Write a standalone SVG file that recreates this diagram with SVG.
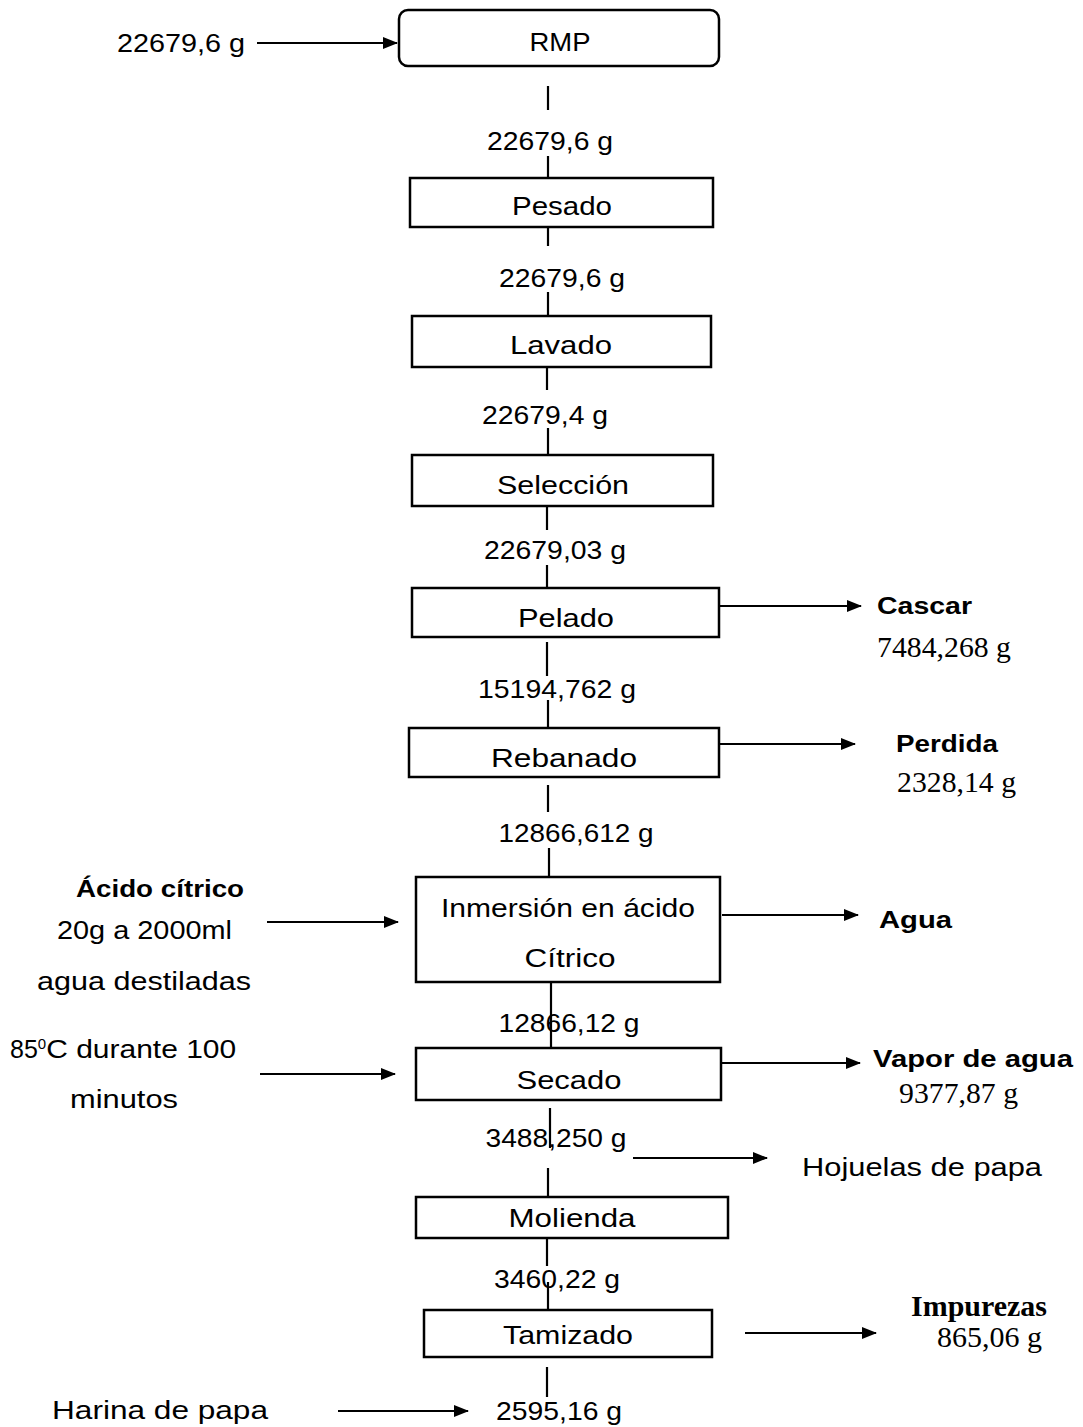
<svg xmlns="http://www.w3.org/2000/svg" width="1083" height="1427" viewBox="0 0 1083 1427">
<style>
.t{font-family:"Liberation Sans",Arial,sans-serif;font-size:25px;fill:#000}
.c{text-anchor:middle}
.b{font-weight:bold;font-size:24px}
.tm{font-family:"Liberation Serif","Times New Roman",serif;font-size:30px;fill:#000}
.box{fill:#fff;stroke:#000;stroke-width:2.5}
.ln{stroke:#000;stroke-width:2.2;fill:none}
</style>
<defs>
<marker id="ah" markerWidth="15" markerHeight="12" refX="14" refY="6" orient="auto" markerUnits="userSpaceOnUse">
<path d="M0,0 L15,6 L0,12 Z" fill="#000"/>
</marker>
</defs>
<rect width="1083" height="1427" fill="#fff"/>
<g id="connectors">
<line class="ln" x1="257" y1="43" x2="397" y2="43" marker-end="url(#ah)"/>
<line class="ln" x1="548" y1="86" x2="548" y2="110"/>
<line class="ln" x1="548" y1="156" x2="548" y2="190"/>
<line class="ln" x1="548" y1="220" x2="548" y2="246"/>
<line class="ln" x1="548" y1="292" x2="548" y2="316"/>
<line class="ln" x1="547" y1="362" x2="547" y2="390"/>
<line class="ln" x1="548" y1="428" x2="548" y2="455"/>
<line class="ln" x1="547" y1="500" x2="547" y2="530"/>
<line class="ln" x1="547" y1="565" x2="547" y2="594"/>
<line class="ln" x1="719" y1="606" x2="861" y2="606" marker-end="url(#ah)"/>
<line class="ln" x1="547" y1="642" x2="547" y2="676"/>
<line class="ln" x1="548" y1="700" x2="548" y2="728"/>
<line class="ln" x1="719" y1="744" x2="855" y2="744" marker-end="url(#ah)"/>
<line class="ln" x1="548" y1="785" x2="548" y2="812"/>
<line class="ln" x1="549" y1="848" x2="549" y2="877"/>
<line class="ln" x1="267" y1="922" x2="398" y2="922" marker-end="url(#ah)"/>
<line class="ln" x1="722" y1="915" x2="858" y2="915" marker-end="url(#ah)"/>
<line class="ln" x1="551" y1="955" x2="551" y2="1053"/>
<line class="ln" x1="260" y1="1074" x2="395" y2="1074" marker-end="url(#ah)"/>
<line class="ln" x1="721" y1="1063" x2="860" y2="1063" marker-end="url(#ah)"/>
<line class="ln" x1="550" y1="1108" x2="550" y2="1148"/>
<line class="ln" x1="633" y1="1158" x2="767" y2="1158" marker-end="url(#ah)"/>
<line class="ln" x1="548" y1="1168" x2="548" y2="1200"/>
<line class="ln" x1="547" y1="1228" x2="547" y2="1266"/>
<line class="ln" x1="548" y1="1282" x2="548" y2="1315"/>
<line class="ln" x1="745" y1="1333" x2="876" y2="1333" marker-end="url(#ah)"/>
<line class="ln" x1="547" y1="1367" x2="547" y2="1397"/>
<line class="ln" x1="338" y1="1411" x2="468" y2="1411" marker-end="url(#ah)"/>
</g>
<g id="labels">
<text class="t" x="117" y="52" textLength="128" lengthAdjust="spacingAndGlyphs">22679,6 g</text>
<text class="t c" x="550" y="150" textLength="126" lengthAdjust="spacingAndGlyphs">22679,6 g</text>
<text class="t c" x="562" y="287" textLength="126" lengthAdjust="spacingAndGlyphs">22679,6 g</text>
<text class="t c" x="545" y="424" textLength="126" lengthAdjust="spacingAndGlyphs">22679,4 g</text>
<text class="t c" x="555" y="559" textLength="142" lengthAdjust="spacingAndGlyphs">22679,03 g</text>
<text class="t c" x="557" y="698" textLength="158" lengthAdjust="spacingAndGlyphs">15194,762 g</text>
<text class="t c" x="576" y="842" textLength="155" lengthAdjust="spacingAndGlyphs">12866,612 g</text>
<text class="t c" x="569" y="1032" textLength="141" lengthAdjust="spacingAndGlyphs">12866,12 g</text>
<text class="t c" x="556" y="1147" textLength="141" lengthAdjust="spacingAndGlyphs">3488,250 g</text>
<text class="t c" x="557" y="1288" textLength="126" lengthAdjust="spacingAndGlyphs">3460,22 g</text>
<text class="t" x="496" y="1420" textLength="126" lengthAdjust="spacingAndGlyphs">2595,16 g</text>
</g>
<g id="node-rmp">
<rect class="box" x="399" y="10" width="320" height="56" rx="9"/>
<text class="t c" x="560" y="51" textLength="61" lengthAdjust="spacingAndGlyphs">RMP</text>
</g>
<g id="node-pesado">
<rect class="box" x="410" y="178" width="303" height="49"/>
<text class="t c" x="562" y="215" textLength="100" lengthAdjust="spacingAndGlyphs">Pesado</text>
</g>
<g id="node-lavado">
<rect class="box" x="412" y="316" width="299" height="51"/>
<text class="t c" x="561" y="354" textLength="102" lengthAdjust="spacingAndGlyphs">Lavado</text>
</g>
<g id="node-seleccion">
<rect class="box" x="412" y="455" width="301" height="51"/>
<text class="t c" x="563" y="494" textLength="132" lengthAdjust="spacingAndGlyphs">Selección</text>
</g>
<g id="node-pelado">
<rect class="box" x="412" y="588" width="307" height="49"/>
<text class="t c" x="566" y="627" textLength="96" lengthAdjust="spacingAndGlyphs">Pelado</text>
</g>
<g id="node-cascar">
<text class="t b" x="877" y="614" textLength="95" lengthAdjust="spacingAndGlyphs">Cascar</text>
<text class="tm" x="877" y="657" textLength="134" lengthAdjust="spacingAndGlyphs">7484,268 g</text>
</g>
<g id="node-rebanado">
<rect class="box" x="409" y="728" width="310" height="49"/>
<text class="t c" x="564" y="767" textLength="146" lengthAdjust="spacingAndGlyphs">Rebanado</text>
</g>
<g id="node-perdida">
<text class="t b" x="896" y="752" textLength="102" lengthAdjust="spacingAndGlyphs">Perdida</text>
<text class="tm" x="897" y="792" textLength="119" lengthAdjust="spacingAndGlyphs">2328,14 g</text>
</g>
<g id="node-acido">
<text class="t b" x="76" y="897" textLength="168" lengthAdjust="spacingAndGlyphs">Ácido cítrico</text>
<text class="t" x="57" y="939" textLength="175" lengthAdjust="spacingAndGlyphs">20g a 2000ml</text>
<text class="t" x="37" y="990" textLength="214" lengthAdjust="spacingAndGlyphs">agua destiladas</text>
</g>
<g id="node-inmersion">
<rect class="box" x="416" y="877" width="304" height="105"/>
<text class="t c" x="568" y="917" textLength="254" lengthAdjust="spacingAndGlyphs">Inmersión en ácido</text>
<text class="t c" x="570" y="967" textLength="91" lengthAdjust="spacingAndGlyphs">Cítrico</text>
</g>
<g id="node-agua">
<text class="t b" x="879" y="928" textLength="73" lengthAdjust="spacingAndGlyphs">Agua</text>
</g>
<g id="node-temp">
<text class="t" x="10" y="1058">85<tspan font-size="15" dy="-9">0</tspan><tspan dy="9" textLength="190" lengthAdjust="spacingAndGlyphs">C durante 100</tspan></text>
<text class="t" x="70" y="1108" textLength="108" lengthAdjust="spacingAndGlyphs">minutos</text>
</g>
<g id="node-secado">
<rect class="box" x="416" y="1048" width="305" height="52"/>
<text class="t c" x="569" y="1089" textLength="105" lengthAdjust="spacingAndGlyphs">Secado</text>
</g>
<g id="node-vapor">
<text class="t b" x="873" y="1067" textLength="200" lengthAdjust="spacingAndGlyphs">Vapor de agua</text>
<text class="tm" x="899" y="1103" textLength="119" lengthAdjust="spacingAndGlyphs">9377,87 g</text>
</g>
<g id="node-hojuelas">
<text class="t" x="802" y="1176" textLength="240" lengthAdjust="spacingAndGlyphs">Hojuelas de papa</text>
</g>
<g id="node-molienda">
<rect class="box" x="416" y="1197" width="312" height="41"/>
<text class="t c" x="572" y="1227" textLength="127" lengthAdjust="spacingAndGlyphs">Molienda</text>
</g>
<g id="node-tamizado">
<rect class="box" x="424" y="1310" width="288" height="47"/>
<text class="t c" x="568" y="1344" textLength="130" lengthAdjust="spacingAndGlyphs">Tamizado</text>
</g>
<g id="node-impurezas">
<text class="tm" x="911" y="1316" font-weight="bold" textLength="136" lengthAdjust="spacingAndGlyphs">Impurezas</text>
<text class="tm" x="937" y="1347" textLength="105" lengthAdjust="spacingAndGlyphs">865,06 g</text>
</g>
<g id="node-harina">
<text class="t" x="52" y="1419" textLength="216" lengthAdjust="spacingAndGlyphs">Harina de papa</text>
</g>
</svg>
